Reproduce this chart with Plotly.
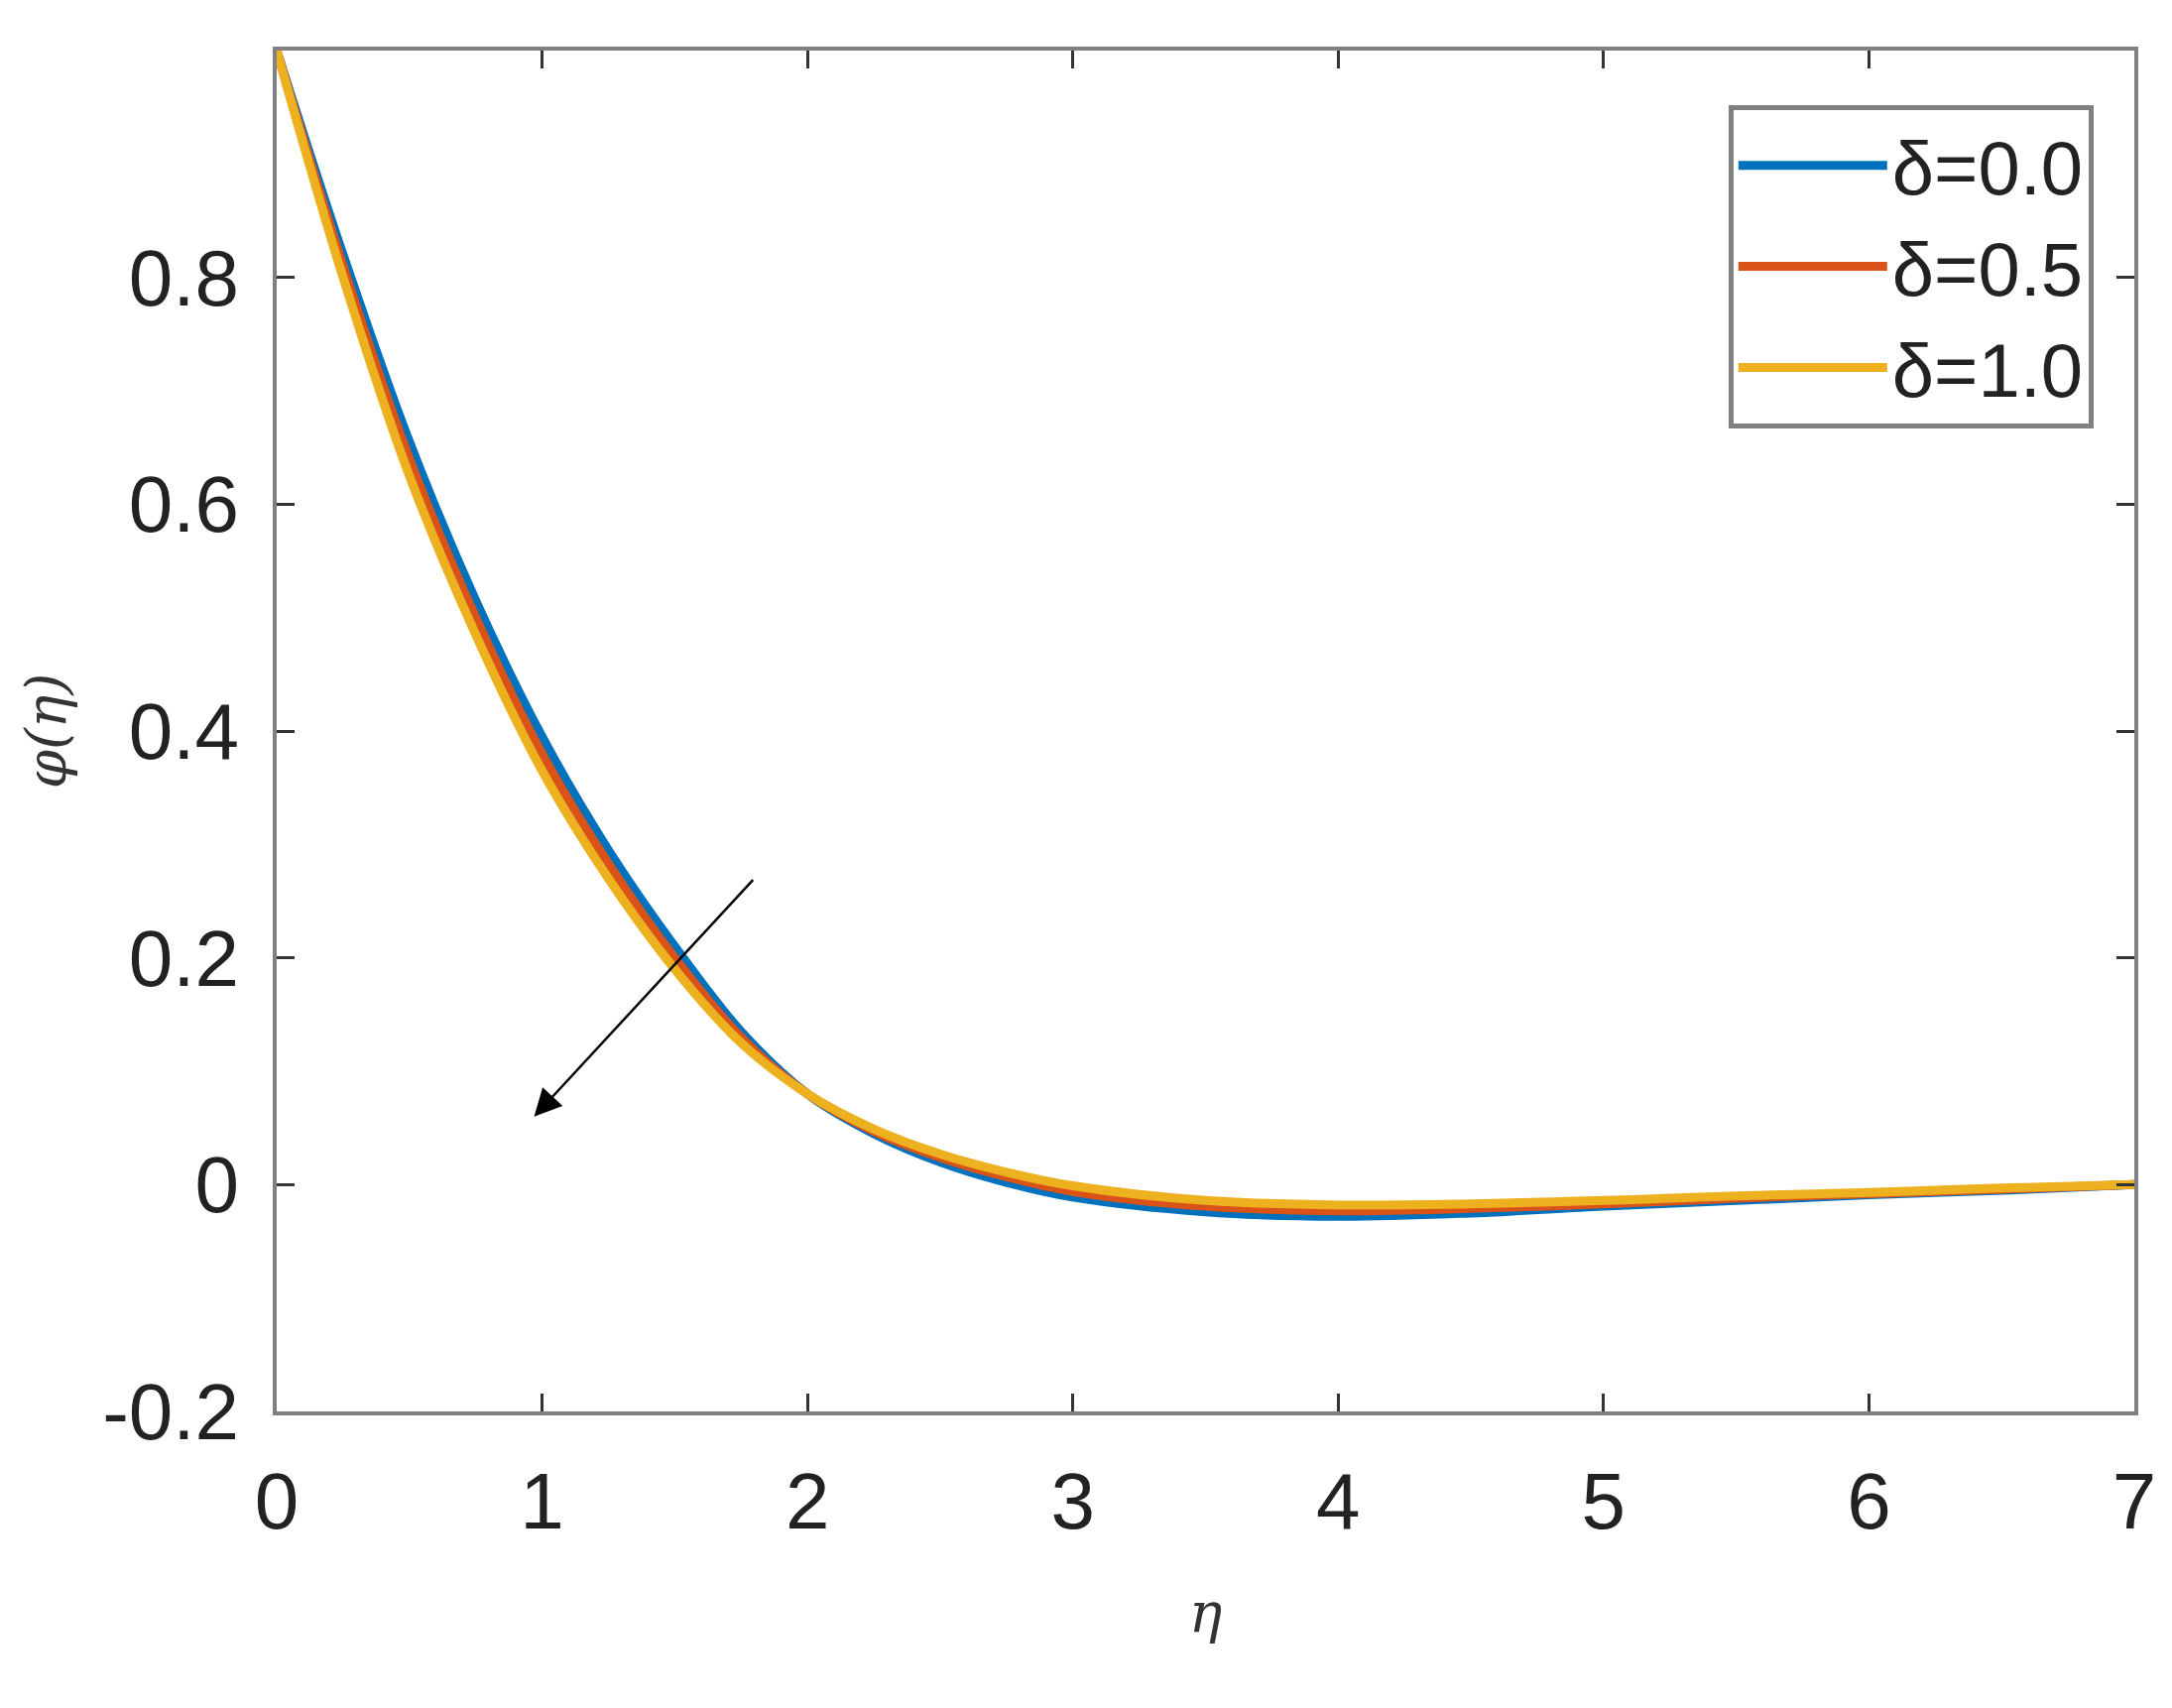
import plotly.graph_objects as go

eta = [0, 0.25, 0.5, 0.75, 1.0, 1.25, 1.5, 1.75, 2.0, 2.25, 2.5, 2.75, 3.0, 3.5, 4.0, 4.5, 5.0, 5.5, 6.0, 6.5, 7.0]
phi_00 = [1.0, 0.82, 0.655, 0.515, 0.395, 0.295, 0.21, 0.135, 0.08, 0.045, 0.02, 0.002, -0.011, -0.024, -0.028, -0.025, -0.019, -0.014, -0.009, -0.005, 0.0]
phi_05 = [1.0, 0.81, 0.64, 0.50, 0.38, 0.283, 0.20, 0.13, 0.08, 0.047, 0.024, 0.007, -0.006, -0.019, -0.023, -0.021, -0.017, -0.012, -0.008, -0.004, 0.0]
phi_10 = [1.0, 0.80, 0.625, 0.485, 0.365, 0.27, 0.19, 0.125, 0.08, 0.049, 0.027, 0.011, -0.001, -0.014, -0.018, -0.017, -0.014, -0.010, -0.007, -0.003, 0.0]
names = ["δ=0.0", "δ=0.5", "δ=1.0"]
colors = ["#0072BD", "#D95319", "#EDB120"]

fig = go.Figure()
for ys, n, c in zip([phi_00, phi_05, phi_10], names, colors):
    fig.add_trace(go.Scatter(x=eta, y=ys, name=n, mode="lines", line=dict(color=c, width=9, shape="spline")))

fig.add_annotation(x=0.97, y=0.06, ax=1.8, ay=0.27, xref="x", yref="y", axref="x", ayref="y",
                   showarrow=True, arrowhead=2, arrowsize=2.2, arrowwidth=2.5, arrowcolor="black", text="")

ax_common = dict(showline=True, linecolor="#808080", linewidth=4, mirror="ticks", ticks="inside",
                 ticklen=18, tickwidth=3, tickcolor="#333", showgrid=False, zeroline=False,
                 ticklabelstandoff=18,
                 tickfont=dict(family="Liberation Sans", size=80, color="#222"))
fig.update_xaxes(range=[0, 7], tickvals=[0, 1, 2, 3, 4, 5, 6, 7],
                 title=dict(text="<i>η</i>", font=dict(family="DejaVu Serif", size=56, color="#333"), standoff=50),
                 **ax_common)
fig.update_yaxes(range=[-0.2, 1.0], tickvals=[-0.2, 0, 0.2, 0.4, 0.6, 0.8],
                 ticktext=["-0.2", "0", "0.2", "0.4", "0.6", "0.8"],
                 title=dict(text="<i>φ(η)</i>", font=dict(family="DejaVu Serif", size=56, color="#333"), standoff=20),
                 **ax_common)
fig.update_layout(width=2190, height=1722, plot_bgcolor="white", paper_bgcolor="white",
                  margin=dict(l=271, r=46, t=43, b=307),
                  legend=dict(x=0.978, y=0.96, xanchor="right", yanchor="top", bgcolor="white",
                              bordercolor="#808080", borderwidth=5,
                              font=dict(family="Liberation Sans", size=76, color="#222"),
                              itemwidth=150, tracegroupgap=20))
fig.write_html("out.html")
